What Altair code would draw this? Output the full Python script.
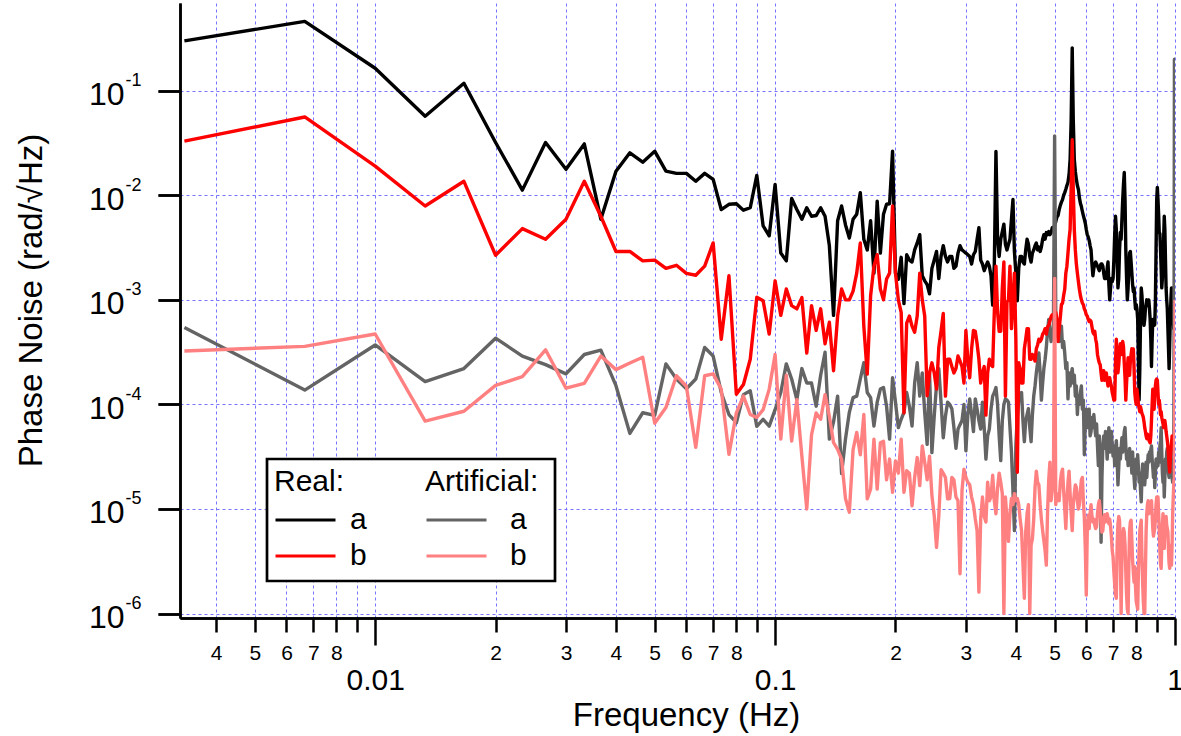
import json
import altair as alt
import pandas as pd

FONT = "Liberation Sans"

# frequency grid (FFT bins, 1/300 Hz spacing)
freqs = [k / 300 for k in range(1, 301)]

real_a = [
    0.30, 0.46, 0.164, 0.057, 0.118, 0.032, 0.0112, 0.032, 0.0177, 0.031,
    0.0059, 0.017, 0.0255, 0.0207, 0.0264, 0.017, 0.0162, 0.0162, 0.0136, 0.0162,
    0.0142, 0.0073, 0.0082, 0.0083, 0.0072, 0.0076, 0.0155, 0.0051, 0.0041, 0.0127,
    0.0028, 0.00236, 0.0093, 0.0073, 0.0059, 0.0076, 0.0063, 0.0064, 0.0076, 0.0063,
    0.0033, 0.00071, 0.0057, 0.0079, 0.0052, 0.0039, 0.0059, 0.0066, 0.0106, 0.0038,
    0.0030, 0.0057, 0.0018, 0.0088, 0.0028, 0.0066, 0.0082, 0.0083, 0.0264, 0.0018,
    0.00157, 0.00255, 0.00092, 0.0027, 0.0024, 0.0023, 0.0030, 0.0035, 0.0042, 0.0017,
    0.00152, 0.0014, 0.00114, 0.0020, 0.0024, 0.0029, 0.0016, 0.0026, 0.0033, 0.0026,
    0.0023, 0.0026, 0.0026, 0.0020, 0.0021, 0.0028, 0.0033, 0.0030, 0.0029, 0.0028,
    0.0027, 0.0026, 0.0022, 0.0027, 0.0029, 0.0038, 0.0049, 0.0024, 0.0022, 0.0019,
    0.0021, 0.0023, 0.0021, 0.0017, 0.00089, 0.0022, 0.0262, 0.0038, 0.0026, 0.0038,
    0.0045, 0.0053, 0.0034, 0.0030, 0.0034, 0.0038, 0.0059, 0.0091, 0.0029, 0.0018,
    0.00098, 0.0020, 0.0026, 0.0026, 0.0023, 0.0022, 0.0030, 0.0038, 0.0034, 0.0026,
    0.0023, 0.0028, 0.0030, 0.0033, 0.0035, 0.0030, 0.0032, 0.0029, 0.0032, 0.0038,
    0.0042, 0.0038, 0.0044, 0.0042, 0.0045, 0.0042, 0.0044, 0.0049, 0.0047, 0.0052,
    0.0056, 0.0062, 0.0064, 0.0073, 0.0080, 0.0086, 0.0091, 0.0100, 0.0106, 0.0114,
    0.0124, 0.0133, 0.0158, 0.022, 0.053, 0.257, 0.053, 0.022, 0.0169, 0.0142,
    0.0124, 0.0114, 0.0095, 0.0084, 0.0078, 0.0070, 0.0064, 0.0059, 0.0054, 0.0047,
    0.0042, 0.0040, 0.0037, 0.0033, 0.0030, 0.0022, 0.0017, 0.0020, 0.0022, 0.0023,
    0.0022, 0.0021, 0.0020, 0.0019, 0.0021, 0.0022, 0.0022, 0.0021, 0.0018, 0.0016,
    0.0017, 0.0016, 0.0020, 0.0023, 0.0014, 0.0010, 0.0013, 0.0016, 0.0015, 0.0016,
    0.0024, 0.0042, 0.0063, 0.0047, 0.0024, 0.0013, 0.0016, 0.0030, 0.0044, 0.0038,
    0.0059, 0.0091, 0.0127, 0.0165, 0.0091, 0.0030, 0.0016, 0.0010, 0.0013, 0.0020,
    0.0028, 0.0029, 0.0023, 0.0018, 0.0014, 0.0012, 0.0013, 0.0010, 0.00082, 0.0009,
    0.00082, 0.00065, 0.00027, 0.00011, 0.00022, 0.00065, 0.0013, 0.0011, 0.00082, 0.00065,
    0.00057, 0.00065, 0.00082, 0.0009, 0.0010, 0.00098, 0.0010, 0.0010, 0.00082, 0.00065,
    0.00042, 0.00023, 0.00042, 0.00065, 0.0006, 0.00057, 0.00058, 0.0010, 0.0030, 0.0091,
    0.0119, 0.0091, 0.0066, 0.0044, 0.0043, 0.0030, 0.0020, 0.0013, 0.0016, 0.0024,
    0.0038, 0.0063, 0.0047, 0.0024, 0.0013, 0.0010, 0.00082, 0.00053, 0.00034, 0.00022,
    0.00038, 0.00065, 0.0010, 0.0013, 0.0013, 0.0010, 0.00065, 0.00053, 0.00065, 0.0010,
]

real_b = [
    0.0329, 0.0561, 0.019, 0.0079, 0.0136, 0.00267, 0.0048, 0.0038, 0.0059, 0.0136,
    0.0063, 0.0029, 0.0029, 0.00236, 0.0024, 0.0020, 0.00214, 0.00179, 0.00172, 0.0021,
    0.0035, 0.00042, 0.0017, 0.000125, 0.000155, 0.00027, 0.00106, 0.00098, 0.00047, 0.00152,
    0.00071, 0.00127, 0.00088, 0.00082, 0.00105, 0.00031, 0.00088, 0.00051, 0.00082, 0.00038,
    0.00061, 0.00021, 0.0007, 0.00127, 0.0010, 0.0010, 0.00121, 0.0018, 0.0035, 0.00056,
    0.000195, 0.0011, 0.0021, 0.0027, 0.00127, 0.0010, 0.00158, 0.0018, 0.0079, 0.0018,
    0.0010, 0.00076, 0.000083, 0.0006, 0.0007, 0.00056, 0.00049, 0.0007, 0.0018, 0.0010,
    0.0007, 0.000121, 0.0002, 0.00025, 0.0002, 0.00014, 0.00035, 0.0005, 0.00074, 0.00012,
    0.00027, 0.00027, 0.00023, 0.0002, 0.00022, 0.00029, 0.00026, 0.00023, 0.00016, 0.00051,
    0.00027, 0.00018, 0.00034, 0.00051, 0.0005, 0.00038, 0.00027, 0.00016, 0.0002, 0.00023,
    0.000079, 0.0002, 0.00027, 0.00024, 0.00023, 0.00077, 0.0021, 0.00077, 0.0005, 0.0005,
    0.0013, 0.0023, 0.00012, 0.00095, 0.0010, 0.0021, 0.00053, 0.0010, 0.0018, 0.00042,
    0.0000224, 0.00025, 0.00022, 0.00016, 0.00016, 0.00034, 0.00042, 0.00053, 0.00053, 0.00027,
    0.00027, 0.0003, 0.00029, 0.00026, 0.00034, 0.00037, 0.00042, 0.0004, 0.00042, 0.00047,
    0.00049, 0.00053, 0.00047, 0.00055, 0.00057, 0.00063, 0.00069, 0.00072, 0.00069, 0.00069,
    0.00076, 0.00065, 0.0004, 0.00053, 0.00068, 0.0009, 0.00093, 0.0011, 0.00126, 0.0018,
    0.0021, 0.0028, 0.0038, 0.0047, 0.0116, 0.034, 0.0116, 0.0047, 0.0030, 0.0022,
    0.0018, 0.0015, 0.00126, 0.0011, 0.0010, 0.00093, 0.0009, 0.00082, 0.00078, 0.00072,
    0.0007, 0.00065, 0.00062, 0.00064, 0.00062, 0.00055, 0.00049, 0.00047, 0.0005, 0.00042,
    0.00038, 0.0003, 0.00027, 0.00025, 0.00024, 0.0002, 0.00017, 0.00019, 0.00021, 0.00017,
    0.00018, 0.0002, 0.00017, 0.00015, 0.00016, 0.00018, 0.00016, 0.00015, 0.00013, 0.00012,
    0.00011, 0.00011, 0.00025, 0.00042, 0.00028, 0.0002, 0.00024, 0.00032, 0.00038, 0.0003,
    0.00035, 0.0004, 0.00036, 0.00025, 0.00018, 0.00011, 0.00016, 0.00022, 0.00028, 0.00024,
    0.00019, 0.00026, 0.0003, 0.00034, 0.00028, 0.00034, 0.00022, 0.00013, 0.00011, 0.0001,
    0.00014, 0.00012, 0.0001, 0.000092, 0.000085, 0.000095, 0.000088, 0.000082, 0.000079, 0.000075,
    0.000068, 0.00006, 0.000055, 0.00005, 0.000047, 0.000052, 0.000048, 0.000046, 0.000044, 0.000043,
    0.00005, 0.00007, 0.0001, 0.00014, 0.00012, 0.00009, 0.00012, 0.00015, 0.00017, 0.000175,
    0.00017, 0.00013, 0.0001, 0.00011, 0.000095, 0.00008, 0.000085, 0.000075, 0.00007, 0.000065,
    0.00006, 0.000068, 0.00007, 0.000063, 0.000055, 0.00005, 0.000045, 0.00004, 0.000032, 0.000026,
    0.0000225, 0.00003, 0.000035, 0.000042, 0.00005, 0.000047, 0.000045, 0.000047, 0.00005, 0.00009,
]

art_a = [
    0.000545, 0.000137, 0.00037, 0.000165, 0.00022, 0.00043, 0.00029, 0.00024, 0.000196, 0.0003,
    0.00033, 0.000151, 0.0000528, 0.0000832, 0.0000785, 0.000244, 0.000175, 0.000141, 0.000175, 0.00035,
    0.00029, 0.00013, 0.00008, 0.0000668, 0.000124, 0.000135, 0.0000617, 0.000072, 0.000062, 0.000089,
    0.00013, 0.000244, 0.000175, 0.000111, 0.00022, 0.00016, 0.00016, 0.0000962, 0.00019, 0.000315,
    0.0000465, 0.000068, 0.00012, 0.0000218, 0.000047, 0.000084, 0.000116, 0.00012, 0.000175, 0.00025,
    0.00013, 0.000116, 0.000062, 0.000105, 0.00014, 0.000145, 0.000096, 0.0000465, 0.00018, 0.000105,
    0.00006, 0.000072, 0.000084, 0.00013, 0.000096, 0.000062, 0.00016, 0.00025, 0.00012, 0.0002,
    0.000084, 0.0000415, 0.0002, 0.0000346, 0.000077, 0.000155, 0.00022, 0.000105, 0.000048, 0.000077,
    0.000105, 0.0001, 0.000091, 0.00006, 0.000038, 0.000058, 0.000064, 0.00007, 0.0001, 0.000036,
    0.00008, 0.000113, 0.00008, 0.000055, 0.000113, 0.00009, 0.00007, 0.000058, 0.000105, 0.00006,
    0.00003, 0.00005, 0.000058, 0.00009, 0.00012, 0.00013, 0.000145, 0.0001, 0.00005, 0.000029,
    0.00007, 0.0001, 0.000113, 0.00011, 0.000105, 0.00006, 0.000035, 0.000015, 0.0000062, 0.00004,
    0.000078, 0.00011, 0.00012, 0.00013, 0.00007, 0.000044, 0.00007, 0.00008, 0.000091, 0.00006,
    0.000044, 0.00008, 0.00012, 0.00015, 0.0002, 0.00025, 0.00031, 0.0002, 0.00011, 0.00016,
    0.00022, 0.00027, 0.00035, 0.0005, 0.00065, 0.0005, 0.0004, 0.00045, 0.0006, 0.037,
    0.0007, 0.00045, 0.00056, 0.0004, 0.00048, 0.00056, 0.00035, 0.0004, 0.00031, 0.00022,
    0.00025, 0.000113, 0.0002, 0.00015, 0.00019, 0.00022, 0.00016, 0.00019, 0.00012, 0.00015,
    0.00008, 0.00012, 0.0001, 0.00013, 0.00015, 0.00009, 0.00011, 0.000033, 0.00007, 0.00009,
    0.00006, 0.000078, 0.00009, 0.00005, 0.000055, 0.000075, 0.00006, 0.00008, 0.000062, 0.00005,
    0.000065, 0.00004, 0.000026, 0.00005, 0.00003, 0.0000048, 0.00002, 0.00004, 0.00005, 0.000038,
    0.000055, 0.000045, 0.00003, 0.000047, 0.00006, 0.000035, 0.000045, 0.000055, 0.00004, 0.000032,
    0.00004, 0.000026, 0.000035, 0.000045, 0.00003, 0.000017, 0.000025, 0.000038, 0.00003, 0.000038,
    0.000048, 0.000035, 0.000045, 0.000055, 0.00006, 0.00004, 0.00003, 0.000035, 0.000026, 0.000032,
    0.000038, 0.000027, 0.00003, 0.000022, 0.000035, 0.000025, 0.00002, 0.0000157, 0.000025, 0.00003,
    0.000022, 0.000033, 0.000025, 0.000018, 0.000022, 0.000015, 0.0000117, 0.00002, 0.000027, 0.000018,
    0.000024, 0.000017, 0.000022, 0.000028, 0.00002, 0.000026, 0.000033, 0.000028, 0.000035, 0.00003,
    0.000037, 0.00004, 0.00003, 0.000025, 0.00002, 0.000026, 0.000016, 0.000022, 0.00003, 0.000025,
    0.00003, 0.000026, 0.000035, 0.000028, 0.00004, 0.000045, 0.00006, 0.000035, 0.000022, 0.000018,
    0.000025, 0.000013, 0.00002, 0.00003, 0.000025, 0.000035, 0.000038, 0.00003, 0.000022, 0.00002,
    0.000028, 0.000025, 0.00003, 0.000024, 0.00002, 0.000018, 0.000022, 0.000025, 0.2, 0.00003,
]

art_b = [
    0.000324, 0.000359, 0.000471, 0.0000692, 0.000086, 0.000152, 0.000184, 0.000333, 0.000143, 0.000159,
    0.00029, 0.000215, 0.000249, 0.000282, 0.000066, 0.0000933, 0.000188, 0.000149, 0.0000388, 0.000188,
    0.000196, 0.00014, 0.0000333, 0.000083, 0.00012, 0.00008, 0.000075, 0.000089, 0.00014, 0.0003,
    0.0000465, 0.00019, 0.0000445, 0.000111, 0.000032, 0.00001, 0.000051, 0.000083, 0.000072, 0.000124,
    0.000077, 0.000043, 0.0000372, 0.0000298, 0.0000125, 0.0000093, 0.000037, 0.000054, 0.000033, 0.00008,
    0.0000125, 0.0000155, 0.0000465, 0.0000155, 0.000043, 0.0000445, 0.000019, 0.00003, 0.0000144, 0.0000288,
    0.000022, 0.0000465, 0.0000144, 0.0000232, 0.000022, 0.0000107, 0.00002, 0.000031, 0.0000167, 0.00004,
    0.000028, 0.000019, 0.000032, 0.0000135, 0.0000086, 0.0000043, 0.0000086, 0.0000237, 0.000022, 0.00002,
    0.0000125, 0.0000126, 0.00002, 0.000019, 0.000013, 0.000012, 0.0000024, 0.000015, 0.000024, 0.00002,
    0.000018, 0.000017, 0.000013, 0.000011, 0.000008, 0.0000062, 0.0000016, 0.000008, 0.000013, 0.0000085,
    0.0000075, 0.000018, 0.000012, 0.000013, 0.000021, 0.000012, 0.000009, 0.000016, 0.000022, 0.000018,
    0.000014, 0.000001, 0.000013, 0.000008, 0.0000049, 0.000009, 0.0000126, 0.000011, 0.000014, 0.000012,
    0.0000126, 0.000011, 0.000008, 0.0000062, 0.000003, 0.0000014, 0.000006, 0.000009, 0.000011, 0.000001,
    0.0000045, 0.0000052, 0.000008, 0.000016, 0.000023, 0.000018, 0.000017, 0.000011, 0.000008, 0.0000062,
    0.000005, 0.000004, 0.0000029, 0.000009, 0.000019, 0.000028, 0.000012, 0.000015, 0.00002, 0.0016,
    0.000011, 0.000014, 0.000013, 0.000012, 0.000018, 0.000022, 0.000024, 0.000015, 0.00001, 0.0000065,
    0.000012, 0.000018, 0.000023, 0.000014, 0.000009, 0.0000062, 0.000011, 0.000014, 0.000017, 0.000016,
    0.000012, 0.00001, 0.000011, 0.000015, 0.000019, 0.00002, 0.000012, 0.0000082, 0.0000042, 0.0000015,
    0.000006, 0.0000087, 0.0000065, 0.000009, 0.000011, 0.0000085, 0.0000075, 0.000008, 0.000007, 0.0000065,
    0.0000068, 0.000009, 0.000011, 0.000012, 0.0000098, 0.0000075, 0.000006, 0.0000062, 0.000008, 0.0000088,
    0.0000075, 0.000008, 0.000009, 0.0000082, 0.0000072, 0.000008, 0.0000068, 0.0000055, 0.000004, 0.0000035,
    0.0000025, 0.0000019, 0.0000015, 0.0000014, 0.0000045, 0.0000072, 0.0000085, 0.0000078, 0.0000035, 0.000001,
    0.0000035, 0.0000055, 0.0000065, 0.000006, 0.0000045, 0.0000025, 0.0000015, 0.0000011, 0.000001, 0.000003,
    0.0000062, 0.0000075, 0.0000078, 0.000005, 0.0000032, 0.0000025, 0.000002, 0.0000028, 0.0000018, 0.0000013,
    0.0000012, 0.0000011, 0.0000025, 0.000004, 0.0000062, 0.000007, 0.0000078, 0.0000035, 0.000002, 0.0000013,
    0.000001, 0.000001, 0.0000025, 0.000006, 0.000009, 0.000011, 0.000012, 0.000009, 0.000011, 0.0000115,
    0.00001, 0.000012, 0.000009, 0.0000065, 0.0000055, 0.000006, 0.0000065, 0.000008, 0.000011, 0.000013,
    0.000012, 0.000013, 0.000009, 0.0000065, 0.000004, 0.000003, 0.0000027, 0.0000045, 0.000007, 0.000009,
    0.0000052, 0.0000042, 0.0000065, 0.0000075, 0.0000085, 0.000007, 0.0000065, 0.000006, 0.000004, 0.000003,
    0.0000027, 0.0000035, 0.0000045, 0.0000029, 0.0000045, 0.000009, 0.000013, 0.000018, 0.00002, 0.001,
]

for _name, _vals in [("real_a", real_a), ("real_b", real_b), ("art_a", art_a), ("art_b", art_b)]:
    if len(_vals) != 300:
        raise SystemExit(f"{_name} has {len(_vals)} values")

# series names shown in the two legend columns
real_names = ["a", "b"]
artificial_names = ["a (artificial)", "b (artificial)"]

# tick labels
minor_tick_values = [0.004, 0.005, 0.006, 0.007, 0.008, 0.009,
                     0.02, 0.03, 0.04, 0.05, 0.06, 0.07, 0.08, 0.09,
                     0.2, 0.3, 0.4, 0.5, 0.6, 0.7, 0.8, 0.9]
minor_tick_labels = ["4", "5", "6", "7", "8", "",
                     "2", "3", "4", "5", "6", "7", "8", "",
                     "2", "3", "4", "5", "6", "7", "8", ""]
major_tick_values = [0.01, 0.1, 1.0]
major_tick_labels = ["0.01", "0.1", "1"]
y_tick_values = [0.1, 0.01, 0.001, 0.0001, 0.00001, 0.000001]
y_tick_exponents = ["-1", "-2", "-3", "-4", "-5", "-6"]

colors_real = ["#000000", "#ff0000"]
colors_art = ["#646464", "#ff8080"]
GRID = "#7575ff"


def frame(field, label, values):
    return pd.DataFrame({"f": freqs, "v": values, field: label})


x_scale = alt.Scale(type="log", domain=[0.00325, 1.0], nice=False)
y_scale = alt.Scale(type="log", domain=[9.06e-7, 0.69], nice=False)

axis_common = dict(domainColor="black", domainWidth=2.5, tickColor="black", tickWidth=2.5,
                   labelColor="black", labelFont=FONT, labelOverlap=False, labelFlush=False,
                   labelBound=False, gridColor=GRID, gridDash=[3, 3], gridWidth=1)

x_axis_minor = alt.Axis(
    orient="bottom", values=minor_tick_values, tickSize=14, labelFontSize=21, labelPadding=10,
    labelExpr=f"{json.dumps(minor_tick_labels)}[indexof({json.dumps(minor_tick_values)}, datum.value)]",
    grid=True, title=None, **axis_common)
x_axis_major = alt.Axis(
    orient="bottom", values=major_tick_values, tickSize=27, labelFontSize=30, labelPadding=20,
    labelExpr=f"{json.dumps(major_tick_labels)}[indexof({json.dumps(major_tick_values)}, datum.value)]",
    grid=True, title="Frequency (Hz)", titleFont=FONT, titleFontSize=33, titleFontWeight="normal",
    titleColor="black", titlePadding=4, titleX=506, **axis_common)
y_axis_base = alt.Axis(
    orient="left", values=y_tick_values, tickSize=22, labelFontSize=32, labelPadding=34,
    labelOffset=4,
    labelExpr="'10'", grid=True, title="Phase Noise (rad/\u221aHz)", titleFont=FONT,
    titleFontSize=33, titleFontWeight="normal", titleColor="black", titlePadding=40,
    titleY=297, **axis_common)
y_axis_exp = alt.Axis(
    orient="left", values=y_tick_values, tickSize=22, labelFontSize=18, labelPadding=17,
    labelOffset=-10,
    labelExpr=f"{json.dumps(y_tick_exponents)}[indexof({json.dumps(y_tick_values)}, datum.value)]",
    grid=False, title=None, **axis_common)

LEG_Y = 464


def legend(title, x, offset):
    return alt.Legend(title=title, orient="none", legendX=x, legendY=LEG_Y, direction="vertical",
                      symbolType="stroke", symbolSize=3600, symbolStrokeWidth=3, clipHeight=30,
                      labelFont=FONT, labelFontSize=30, labelColor="black", labelOffset=offset,
                      labelExpr="substring(datum.label, 0, 1)",
                      titleFont=FONT, titleFontSize=30, titleFontWeight="normal", titleColor="black",
                      titlePadding=8, rowPadding=6, padding=0)


real_color = alt.Color("real:N", scale=alt.Scale(domain=real_names, range=colors_real),
                       legend=legend("Real:", 94, 13))
art_stroke = alt.Stroke("artificial:N", scale=alt.Scale(domain=artificial_names, range=colors_art),
                        legend=legend("Artificial:", 245, 22))

line = dict(strokeWidth=3.4, clip=True, strokeJoin="round")

l_real_a = alt.Chart(frame("real", real_names[0], real_a)).mark_line(**line).encode(
    x=alt.X("f:Q", scale=x_scale, axis=x_axis_minor),
    y=alt.Y("v:Q", scale=y_scale, axis=y_axis_base),
    color=real_color)
l_art_a = alt.Chart(frame("artificial", artificial_names[0], art_a)).mark_line(**line).encode(
    x=alt.X("f:Q", scale=x_scale, axis=x_axis_major),
    y=alt.Y("v:Q", scale=y_scale, axis=y_axis_exp),
    stroke=art_stroke)
l_real_b = alt.Chart(frame("real", real_names[1], real_b)).mark_line(**line).encode(
    x=alt.X("f:Q", scale=x_scale, axis=None),
    y=alt.Y("v:Q", scale=y_scale, axis=None),
    color=real_color)
l_art_b = alt.Chart(frame("artificial", artificial_names[1], art_b)).mark_line(**line).encode(
    x=alt.X("f:Q", scale=x_scale, axis=None),
    y=alt.Y("v:Q", scale=y_scale, axis=None),
    stroke=art_stroke)

legend_box = alt.Chart(alt.Data(values=[{"box": 1}])).mark_rect(
    fill="white", stroke="black", strokeWidth=2.7).encode(
    x=alt.value(87), x2=alt.value(375), y=alt.value(456), y2=alt.value(578))

chart = alt.layer(l_real_a, l_art_a, l_real_b, l_art_b, legend_box).resolve_axis(
    x="independent", y="independent"
).properties(
    width=995, height=615,
    autosize=alt.AutoSizeParams(type="none"),
    padding={"left": 180, "top": 3, "right": 6, "bottom": 118},
    background="white",
).configure_view(strokeWidth=0)

chart.save("out.html", embed_options={"renderer": "svg", "actions": False})
